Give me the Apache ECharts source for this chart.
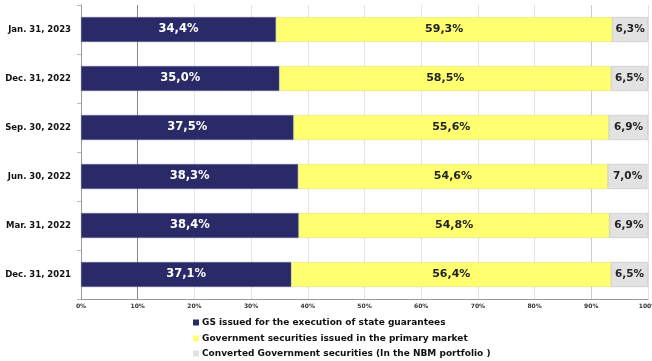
<!DOCTYPE html>
<html><head><meta charset="utf-8">
<script src="https://cdn.jsdelivr.net/npm/echarts@6/dist/echarts.min.js"></script>
<style>html,body{margin:0;padding:0;background:#fff}#c{width:652px;height:361px}</style>
</head><body><div id="c"></div>
<script>
const categories = ['Dec. 31, 2021','Mar. 31, 2022','Jun. 30, 2022','Sep. 30, 2022','Dec. 31, 2022','Jan. 31, 2023'];
const gsGuarantees = [37.1, 38.4, 38.3, 37.5, 35.0, 34.4];
const govPrimary = [56.4, 54.8, 54.6, 55.6, 58.5, 59.3];
const converted = [6.5, 6.9, 7.0, 6.9, 6.5, 6.3];
const seriesNames = ['GS issued for the execution of state guarantees','Government securities issued in the primary market','Converted Government securities (In the NBM portfolio )'];

const fmt = p => p.value.toFixed(1).replace('.', ',') + '%';
const font = 'Verdana, "DejaVu Sans", sans-serif';
const legendTops = [318, 334, 349];
const legends = seriesNames.map((n, i) => ({
  orient: 'vertical', left: 193, top: legendTops[i], itemWidth: 6, itemHeight: 6, padding: 0,
  icon: 'rect', data: [n], itemStyle: {borderWidth: 0},
  textStyle: {fontFamily: font, fontSize: 9, fontWeight: 'bold', color: '#111', padding: [0,0,0,-2]}
}));
const chart = echarts.init(document.getElementById('c'));
chart.setOption({
  animation: false,
  grid: {left: 81, right: 4, top: 5, bottom: 62, containLabel: false, outerBoundsMode: 'none'},
  legend: legends,
  xAxis: {
    type: 'value', min: 0, max: 100, interval: 10,
    axisLine: {show: true, lineStyle: {color: '#999'}},
    axisTick: {show: false},
    axisLabel: {formatter: '{value}%', fontFamily: font, fontSize: 6, fontWeight: 'bold', color: '#333', margin: 4},
    splitLine: {show: true, lineStyle: {color: ['#ddd','#888','#e4e4e4','#e4e4e4','#e4e4e4','#e4e4e4','#e4e4e4','#e4e4e4','#e4e4e4','#ccc','#e4e4e4'], width: 1}}
  },
  yAxis: {
    type: 'category', data: categories,
    axisLine: {show: true, lineStyle: {color: '#999'}},
    axisTick: {show: true, length: 4, lineStyle: {color: '#bbb'}},
    axisLabel: {fontFamily: font, fontSize: 8.5, fontWeight: 'bold', color: '#111', margin: 10}
  },
  series: [
    {name: seriesNames[0], type: 'bar', stack: 'a', data: gsGuarantees, barWidth: '51%',
     itemStyle: {color: '#2b2a68', borderColor: '#6a6a9a', borderWidth: 0.5},
     label: {show: true, position: 'inside', formatter: fmt, color: '#fff', fontFamily: font, fontSize: 11.5, fontWeight: 'bold'}},
    {name: seriesNames[1], type: 'bar', stack: 'a', data: govPrimary,
     itemStyle: {color: '#ffff70', borderColor: '#d8d890', borderWidth: 0.5},
     label: {show: true, position: 'inside', formatter: fmt, color: '#222', fontFamily: font, fontSize: 11, fontWeight: 'bold'}},
    {name: seriesNames[2], type: 'bar', stack: 'a', data: converted,
     itemStyle: {color: '#e2e2e2', borderColor: '#bbb', borderWidth: 0.5},
     label: {show: true, position: 'inside', formatter: fmt, color: '#222', fontFamily: font, fontSize: 10.5, fontWeight: 'bold'}}
  ]
});
</script></body></html>
